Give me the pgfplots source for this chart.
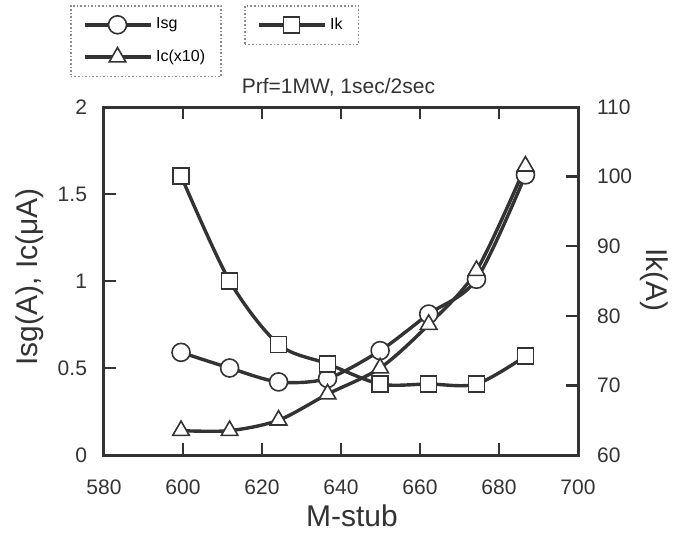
\documentclass[border=0pt]{standalone}
\usepackage{fontspec}
\setmainfont{Liberation Sans}
\usepackage{pgfplots}
\pgfplotsset{compat=1.18}
\definecolor{ink}{HTML}{333333}

\pgfplotsset{
  every axis/.append style={
    scale only axis, width=237pt, height=174pt,
    xmin=580, xmax=700, clip=false,
    tick align=inside, major tick length=6pt,
    every tick/.style={ink, line width=1.2pt},
    axis line style={ink, line width=1.5pt},
    tick label style={font=\fontsize{10.5}{12}\selectfont, text=ink},
    /pgf/number format/assume math mode=true,
    label style={font=\fontsize{15}{17}\selectfont, text=ink},
    legend cell align=left,
    legend style={font=\fontsize{8}{9}\selectfont, draw=black!45, densely dotted,
      line width=0.8pt, inner xsep=6pt, inner ysep=4pt, row sep=5pt},
    legend image code/.code={\draw[mark repeat=2,mark phase=2,#1]
      plot coordinates {(0pt,0pt) (16.5pt,0pt) (33pt,0pt)};},
  },
  curve/.style={ink, line width=1.7pt, smooth, solid,
    mark options={solid, fill=white, line width=0.8pt}},
}

\begin{document}
\begin{tikzpicture}
\begin{axis}[
  ymin=0, ymax=2, ytick={0,0.5,1,1.5,2}, ytick pos=left,
  xtick={580,600,...,700},
  xticklabel style={yshift=-9pt},
  yticklabel style={xshift=-5pt},
  xlabel={M-stub},
  xlabel style={at={(rel axis cs:0.523,-0.204)}, anchor=base},
  ylabel={Isg(A), Ic(μA)},
  ylabel style={at={(rel axis cs:-0.156,0.5115)}, anchor=center},
  legend style={at={(rel axis cs:-0.0717,1.2931)}, anchor=north west},
]
\addplot[curve, mark=*, mark size=4.5pt] coordinates {
  (599.5,0.59) (611.8,0.50) (624.2,0.42) (636.6,0.44)
  (649.9,0.60) (662.2,0.81) (674.3,1.01) (686.7,1.61)};
\addlegendentry{Isg}
\addplot[curve, mark=triangle*, mark size=4.8pt] coordinates {
  (599.5,0.14) (611.8,0.14) (624.2,0.20) (636.6,0.35)
  (649.9,0.50) (662.2,0.75) (674.3,1.06) (686.7,1.66)};
\addlegendentry{Ic(x10)\hspace{7pt}}
\coordinate (bl) at (rel axis cs:-0.2194,-0.2155);
\coordinate (tr) at (rel axis cs:1.2194,1.3075);
\node[anchor=base west, font=\fontsize{10.5}{12}\selectfont, text=ink]
  at (rel axis cs:0.276,1.040) {Prf=1MW, 1sec/2sec};
\end{axis}

\begin{axis}[
  ymin=60, ymax=110, ytick={60,70,...,110},
  hide x axis, axis y line*=right,
  yticklabel style={xshift=6pt},
  ylabel={Ik(A)},
  ylabel style={at={(rel axis cs:1.1603,0.5029)}, anchor=center, rotate=180},
  legend style={at={(rel axis cs:0.2954,1.2931)}, anchor=north west},
]
\addplot[curve, mark=square*, mark size=4pt] coordinates {
  (599.5,100.1) (611.8,85.0) (624.2,75.9) (636.6,73.1)
  (649.9,70.2) (662.2,70.2) (674.3,70.2) (686.7,74.2)};
\addlegendentry{Ik}
\end{axis}
\path (bl) rectangle (tr);
\end{tikzpicture}
\end{document}
